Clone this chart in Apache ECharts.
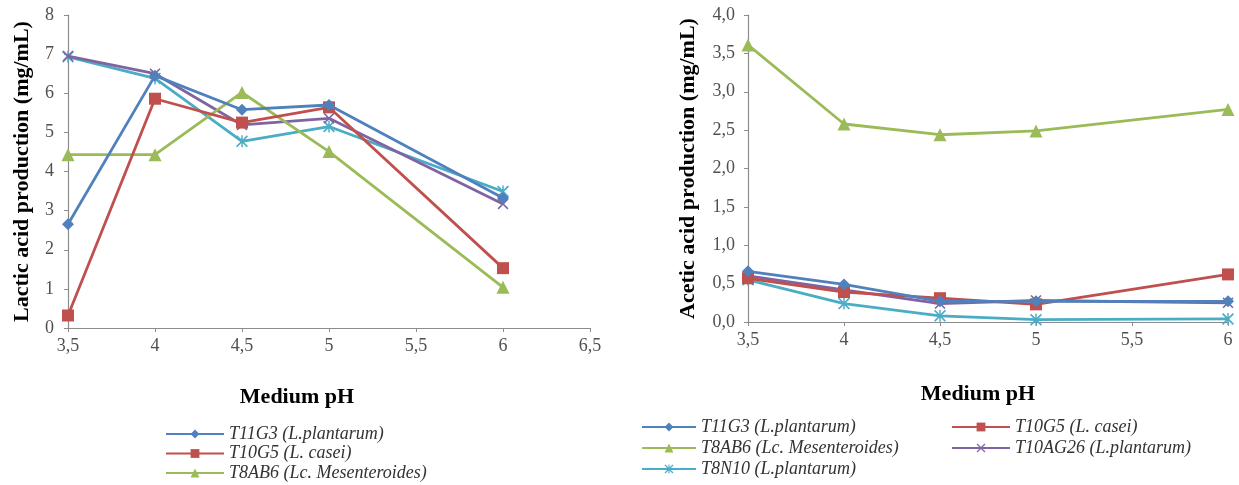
<!DOCTYPE html>
<html><head><meta charset="utf-8">
<script src="https://cdn.jsdelivr.net/npm/echarts@6/dist/echarts.min.js"></script>
<style>html,body{margin:0;padding:0;background:#fff}#c{width:1239px;height:485px}</style>
</head><body><div id="c"></div>
<script>
const phLeft = [3.5, 4, 4.5, 5, 6];
const lacticT11G3 = [2.65, 6.45, 5.58, 5.70, 3.32];
const lacticT10G5 = [0.32, 5.86, 5.25, 5.64, 1.53];
const lacticT8AB6 = [4.43, 4.43, 6.02, 4.51, 1.04];
const lacticT10AG26 = [6.95, 6.50, 5.19, 5.36, 3.17];
const lacticT8N10 = [6.93, 6.38, 4.77, 5.15, 3.49];

const phRight = [3.5, 4, 4.5, 5, 6];
const aceticT11G3 = [0.66, 0.49, 0.27, 0.27, 0.27];
const aceticT10G5 = [0.57, 0.39, 0.31, 0.23, 0.62];
const aceticT8AB6 = [3.61, 2.58, 2.44, 2.49, 2.77];
const aceticT10AG26 = [0.60, 0.42, 0.24, 0.28, 0.25];
const aceticT8N10 = [0.55, 0.24, 0.08, 0.03, 0.04];

const names = ['T11G3 (L.plantarum)', 'T10G5 (L. casei)', 'T8AB6 (Lc. Mesenteroides)', 'T10AG26 (L.plantarum)', 'T8N10 (L.plantarum)'];
const colors = ['#4F81BD', '#C0504D', '#9BBB59', '#8064A2', '#4BACC6'];
const xSym = 'path://M0,1L1,0L5,4L9,0L10,1L6,5L10,9L9,10L5,6L1,10L0,9L4,5Z';
const starSym = 'path://M0,1L1,0L5,4L9,0L10,1L6,5L10,9L9,10L5,6L1,10L0,9L4,5Z M4.4,0L5.6,0L5.6,10L4.4,10Z';
const symbols = ['diamond', 'rect', 'triangle', xSym, starSym];
const sizes = [12, 12, 13, 11, 12];

const serif = 'Liberation Serif';
const fmt = v => String(v).replace('.', ',');
const fmt1 = v => v.toFixed(1).replace('.', ',');

function mk(i, xi, yi, xs, ys) {
  return {
    name: names[i], type: 'line', xAxisIndex: xi, yAxisIndex: yi,
    data: xs.map((x, k) => [x, ys[k]]),
    symbol: symbols[i], symbolSize: sizes[i], showSymbol: true,
    lineStyle: { color: colors[i], width: 2.8 },
    itemStyle: { color: colors[i] },
    z: 10 - i, animation: false
  };
}
const axisCommon = {
  axisLine: { show: true, lineStyle: { color: '#8c8c8c', width: 1.2 } },
  axisTick: { show: true, inside: false, length: 4, lineStyle: { color: '#8c8c8c' } },
  splitLine: { show: false },
  axisLabel: { fontFamily: serif, fontSize: 18, color: '#505050' }
};
const nameStyle = { fontFamily: serif, fontSize: 22, fontWeight: 'bold', color: '#000' };
const legendText = { fontFamily: serif, fontSize: 18, lineHeight: 18, fontStyle: 'italic', color: '#333' };
const chart = echarts.init(document.getElementById('c'), null, { renderer: 'canvas' });
chart.setOption({
  backgroundColor: '#fff',
  animation: false,
  grid: [
    { left: 68, right: 649, top: 15, bottom: 157 },
    { left: 748, right: 11, top: 15, bottom: 163 }
  ],
  xAxis: [
    Object.assign({}, axisCommon, { type: 'value', gridIndex: 0, min: 3.5, max: 6.5, interval: 0.5,
      axisLabel: Object.assign({}, axisCommon.axisLabel, { formatter: fmt, margin: 9 }),
      name: 'Medium pH', nameLocation: 'middle', nameGap: 58,
      nameTextStyle: Object.assign({}, nameStyle, { padding: [0, 64, 0, 0] }) }),
    Object.assign({}, axisCommon, { type: 'value', gridIndex: 1, min: 3.5, max: 6, interval: 0.5,
      axisLabel: Object.assign({}, axisCommon.axisLabel, { formatter: fmt, margin: 9 }),
      name: 'Medium pH', nameLocation: 'middle', nameGap: 61,
      nameTextStyle: Object.assign({}, nameStyle, { padding: [0, 20, 0, 0] }) })
  ],
  yAxis: [
    Object.assign({}, axisCommon, { type: 'value', gridIndex: 0, min: 0, max: 8, interval: 1,
      axisLabel: Object.assign({}, axisCommon.axisLabel, { margin: 14 }),
      name: 'Lactic acid production (mg/mL)', nameLocation: 'middle', nameGap: 35,
      nameTextStyle: nameStyle }),
    Object.assign({}, axisCommon, { type: 'value', gridIndex: 1, min: 0, max: 4, interval: 0.5,
      axisLabel: Object.assign({}, axisCommon.axisLabel, { formatter: fmt1, margin: 13 }),
      name: 'Acetic acid production (mg/mL)', nameLocation: 'middle', nameGap: 49,
      nameTextStyle: nameStyle })
  ],
  legend: [
    { orient: 'vertical', left: 165, top: 425, height: 60, padding: 0, itemWidth: 58, itemHeight: 11, itemGap: 1.5,
      data: [names[0], names[1], names[2]], textStyle: legendText },
    { orient: 'vertical', left: 641, top: 418, height: 67, padding: 0, itemWidth: 54, itemHeight: 11, itemGap: 3,
      data: [names[0], names[2], names[4]], textStyle: legendText },
    { orient: 'vertical', left: 951, top: 418, height: 67, padding: 0, itemWidth: 58, itemHeight: 11, itemGap: 3,
      data: [names[1], names[3]], textStyle: legendText }
  ],
  series: [
    mk(0, 0, 0, phLeft, lacticT11G3),
    mk(1, 0, 0, phLeft, lacticT10G5),
    mk(2, 0, 0, phLeft, lacticT8AB6),
    mk(3, 0, 0, phLeft, lacticT10AG26),
    mk(4, 0, 0, phLeft, lacticT8N10),
    mk(0, 1, 1, phRight, aceticT11G3),
    mk(1, 1, 1, phRight, aceticT10G5),
    mk(2, 1, 1, phRight, aceticT8AB6),
    mk(3, 1, 1, phRight, aceticT10AG26),
    mk(4, 1, 1, phRight, aceticT8N10)
  ]
});
</script></body></html>
